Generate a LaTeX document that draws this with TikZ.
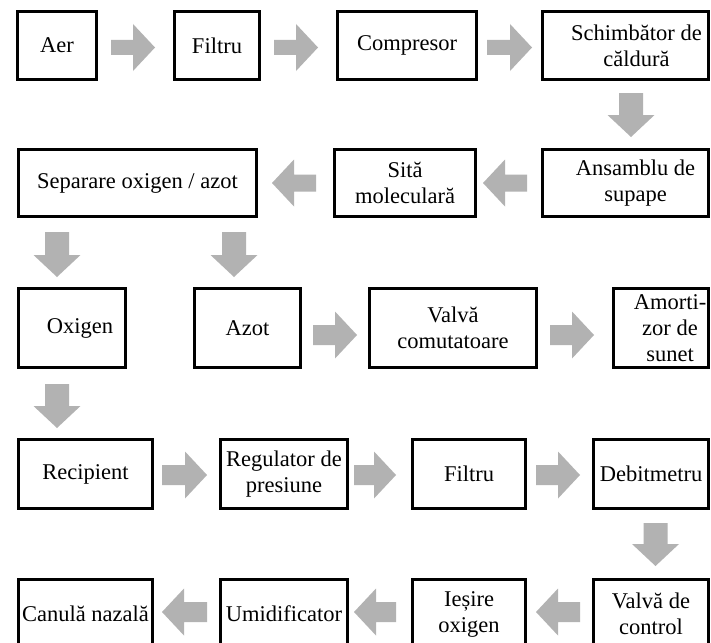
\documentclass[tikz,border=0pt]{standalone}
\usepackage{fontspec}
\setmainfont{Liberation Serif}
\usetikzlibrary{calc}
\definecolor{arrowgray}{RGB}{178,178,178}
% block arrows between named boxes: [half shaft width]{start}{tip}
\newcommand\arrR[3][10]{\fill[arrowgray] let \p1=(#2), \p2=(#3) in
  (\x1,\y1+#1pt) -- (\x2-22pt,\y1+#1pt) -- (\x2-22pt,\y1+23.5pt) -- (\x2,\y1)
  -- (\x2-22pt,\y1-23.5pt) -- (\x2-22pt,\y1-#1pt) -- (\x1,\y1-#1pt) -- cycle;}
\newcommand\arrL[3][10]{\fill[arrowgray] let \p1=(#2), \p2=(#3) in
  (\x1,\y1+#1pt) -- (\x2+22pt,\y1+#1pt) -- (\x2+22pt,\y1+23.5pt) -- (\x2,\y1)
  -- (\x2+22pt,\y1-23.5pt) -- (\x2+22pt,\y1-#1pt) -- (\x1,\y1-#1pt) -- cycle;}
\newcommand\arrD[3][12]{\fill[arrowgray] let \p1=(#2), \p2=(#3) in
  (\x1-#1pt,\y1) -- (\x1-#1pt,\y2+22pt) -- (\x1-23.5pt,\y2+22pt) -- (\x1,\y2)
  -- (\x1+23.5pt,\y2+22pt) -- (\x1+#1pt,\y2+22pt) -- (\x1+#1pt,\y1) -- cycle;}
\tikzset{
  box/.style={draw=black, line width=2.8pt, rectangle, inner sep=1pt, align=center,
    font=\fontsize{22.5}{26}\selectfont},
  bx/.style 2 args={box, minimum width=#1pt, minimum height=#2pt}
}
\begin{document}
\begin{tikzpicture}[x=1pt,y=-1pt]
\useasboundingbox (0,0) rectangle (711,642);
\fill[white] (0,0) rectangle (711,642);
\clip (0,0) rectangle (711,642);
% row 1
\node[bx={79.2}{68.2}] (aer) at (57,45.5) {Aer};
\node[bx={85.2}{68.2}] (filtru1) at (217,45.5) {Filtru};
\node[bx={139.2}{68.2}] (compresor) at (407,45.5) {Compresor};
\node[bx={166.2}{68.2}] (schimb) at (625.5,45.5) {\hspace*{22pt}Schimbător de\\\hspace*{22pt}căldură};
% row 2
\node[bx={238.2}{67.2}] (separare) at (137.5,183) {Separare oxigen / azot};
\node[bx={141.2}{67.2}] (sita) at (405,183) {Sită\\moleculară};
\node[bx={166.2}{67.2}] (ansamblu) at (625.5,183) {\hspace*{20pt}Ansamblu de\\\hspace*{20pt}supape};
% row 3
\node[bx={107.2}{79.2}] (oxigen) at (72,328) {\hspace*{16pt}Oxigen};
\node[bx={106.2}{79.2}] (azot) at (247.5,328) {Azot};
\node[bx={167.2}{79.2}] (valva) at (453,328) {Valvă\\comutatoare};
\node[bx={95.2}{79.2}] (amort) at (661,328) {\hspace*{18pt}Amorti-\\\hspace*{18pt}zor de\\\hspace*{18pt}sunet};
% row 4
\node[bx={134.2}{69.2}] (recipient) at (85.5,474) {Recipient};
\node[bx={127.2}{69.2}] (regulator) at (284,474) {Regulator de\\presiune};
\node[bx={113.2}{69.2}] (filtru2) at (469,474) {Filtru};
\node[bx={115.2}{69.2}] (debit) at (651,474) {Debitmetru};
% row 5
\node[bx={134.2}{69.2}] (canula) at (85.5,614) {Canulă nazală};
\node[bx={127.2}{69.2}] (umid) at (284,614) {Umidificator};
\node[bx={113.2}{69.2}] (iesire) at (469,614) {Ieșire\\oxigen};
\node[bx={115.2}{69.2}] (valvactrl) at (651,614) {Valvă de\\control};
% arrows row 1
\arrR[7.5]{$(aer.east)+(13,2)$}{$(filtru1.west)+(-18,2)$}
\arrR[7.5]{$(filtru1.east)+(13,2)$}{$(compresor.west)+(-18,2)$}
\arrR[7.5]{$(compresor.east)+(9,2)$}{$(schimb.west)+(-9,2)$}
\arrD{$(schimb.south)+(5.5,12)$}{$(ansamblu.north)+(5.5,-11)$}
% arrows row 2
\arrL[8.5]{$(ansamblu.west)+(-14,0)$}{$(sita.east)+(6,0)$}
\arrL[8.5]{$(sita.west)+(-17,0)$}{$(separare.east)+(14,0)$}
\arrD{$(oxigen.north |- separare.south)+(-15,14)$}{$(oxigen.north)+(-15,-10)$}
\arrD{$(azot.north |- separare.south)+(-13.5,14)$}{$(azot.north)+(-13.5,-10)$}
% arrows row 3
\arrR{$(azot.east)+(11,7)$}{$(valva.west)+(-11,7)$}
\arrR{$(valva.east)+(12,7)$}{$(amort.west)+(-18,7)$}
\arrD{$(oxigen.south)+(-15,15)$}{$(oxigen.south |- recipient.north)+(-15,-10)$}
% arrows row 4
\arrR{$(recipient.east)+(8,1)$}{$(regulator.west)+(-12,1)$}
\arrR{$(regulator.east)+(5,1)$}{$(filtru2.west)+(-15,1)$}
\arrR{$(filtru2.east)+(9,1)$}{$(debit.west)+(-12,1)$}
\arrD{$(debit.south)+(4.5,13)$}{$(valvactrl.north)+(4.5,-12)$}
% arrows row 5
\arrL{$(valvactrl.west)+(-12,-2)$}{$(iesire.east)+(9,-2)$}
\arrL{$(iesire.west)+(-15,-2)$}{$(umid.east)+(5,-2)$}
\arrL{$(umid.west)+(-12,-2)$}{$(canula.east)+(8,-2)$}
\end{tikzpicture}
\end{document}
